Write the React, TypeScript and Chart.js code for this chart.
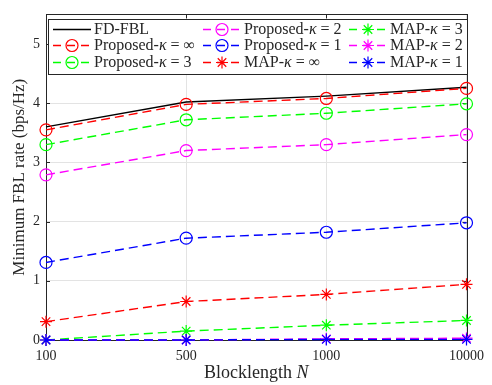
import React, { useEffect, useRef } from 'react';
import { Chart, registerables } from 'chart.js';

Chart.register(...registerables);

const categories = ['100', '500', '1000', '10000'];
const fdFbl = [3.6, 4.02, 4.12, 4.27];
const propInf = [3.55, 3.98, 4.08, 4.25];
const prop3 = [3.3, 3.72, 3.83, 3.99];
const prop2 = [2.79, 3.2, 3.3, 3.47];
const prop1 = [1.31, 1.72, 1.82, 1.98];
const mapInf = [0.31, 0.65, 0.77, 0.94];
const map3 = [0.0, 0.15, 0.25, 0.33];
const map2 = [0.0, 0.0, 0.02, 0.03];
const map1 = [0.0, 0.0, 0.01, 0.01];
const yTicks = [0, 1, 2, 3, 4, 5];
const xTitle = 'Blocklength ';
const xTitleVar = 'N';
const yTitle = 'Minimum FBL rate (bps/Hz)';

const FONT = "'Liberation Serif', 'DejaVu Serif', serif";
const TXT = '#262626';

type S = { label: string; data: number[]; color: string; marker: string; dash: boolean };
const series: S[] = [
  { label: 'FD-FBL', data: fdFbl, color: '#000000', marker: 'none', dash: false },
  { label: 'Proposed-κ = ∞', data: propInf, color: '#ff0000', marker: 'circle', dash: true },
  { label: 'Proposed-κ = 3', data: prop3, color: '#00ff00', marker: 'circle', dash: true },
  { label: 'Proposed-κ = 2', data: prop2, color: '#ff00ff', marker: 'circle', dash: true },
  { label: 'Proposed-κ = 1', data: prop1, color: '#0000ff', marker: 'circle', dash: true },
  { label: 'MAP-κ = ∞', data: mapInf, color: '#ff0000', marker: 'star', dash: true },
  { label: 'MAP-κ = 3', data: map3, color: '#00ff00', marker: 'star', dash: true },
  { label: 'MAP-κ = 2', data: map2, color: '#ff00ff', marker: 'star', dash: true },
  { label: 'MAP-κ = 1', data: map1, color: '#0000ff', marker: 'star', dash: true },
];

const DASH = [9, 5];
const LW = 1.4;
const RAD = 6;

function drawMarker(ctx: CanvasRenderingContext2D, kind: string, x: number, y: number, color: string) {
  if (kind === 'none') return;
  ctx.save();
  ctx.strokeStyle = color;
  ctx.lineWidth = 1.2;
  ctx.setLineDash([]);
  ctx.beginPath();
  if (kind === 'circle') {
    ctx.arc(x, y, RAD, 0, Math.PI * 2);
  } else {
    for (let i = 0; i < 4; i++) {
      const a = (i * Math.PI) / 4;
      ctx.moveTo(x - RAD * Math.cos(a), y - RAD * Math.sin(a));
      ctx.lineTo(x + RAD * Math.cos(a), y + RAD * Math.sin(a));
    }
  }
  ctx.stroke();
  ctx.restore();
}

const framePlugin = {
  id: 'frame',
  beforeDatasetsDraw(chart: any) {
    const { ctx, chartArea: a, scales } = chart;
    ctx.save();
    ctx.strokeStyle = '#262626';
    ctx.lineWidth = 1;
    ctx.strokeRect(Math.round(a.left) + 0.5, Math.round(a.top) + 0.5, Math.round(a.right - a.left), Math.round(a.bottom - a.top));
    ctx.beginPath();
    yTicks.forEach((v) => {
      const y = Math.round(scales.y.getPixelForValue(v)) + 0.5;
      ctx.moveTo(a.left, y); ctx.lineTo(a.left + 4, y);
      ctx.moveTo(a.right, y); ctx.lineTo(a.right - 4, y);
    });
    categories.forEach((_, i) => {
      const x = Math.round(scales.x.getPixelForValue(i)) + 0.5;
      ctx.moveTo(x, a.bottom); ctx.lineTo(x, a.bottom - 4);
      ctx.moveTo(x, a.top); ctx.lineTo(x, a.top + 4);
    });
    ctx.stroke();

    // axis titles
    ctx.fillStyle = TXT;
    ctx.textBaseline = 'middle';
    const cx = (a.left + a.right) / 2;
    ctx.font = `18px ${FONT}`;
    const w1 = ctx.measureText(xTitle).width;
    ctx.font = `italic 18px ${FONT}`;
    const w2 = ctx.measureText(xTitleVar).width;
    let sx = cx - (w1 + w2) / 2;
    ctx.textAlign = 'left';
    ctx.font = `18px ${FONT}`;
    ctx.fillText(xTitle, sx, 373);
    ctx.font = `italic 18px ${FONT}`;
    ctx.fillText(xTitleVar, sx + w1, 373);

    ctx.save();
    ctx.translate(20, (a.top + a.bottom) / 2);
    ctx.rotate(-Math.PI / 2);
    ctx.textAlign = 'center';
    ctx.font = `17px ${FONT}`;
    ctx.fillText(yTitle, 0, 0);
    ctx.restore();
    ctx.restore();
  },
  afterDatasetsDraw(chart: any) {
    const { ctx } = chart;
    const bx = 48, by = 19, bw = 419, bh = 55;
    ctx.save();
    ctx.fillStyle = '#ffffff';
    ctx.fillRect(bx, by, bw, bh);
    ctx.strokeStyle = '#262626';
    ctx.lineWidth = 1;
    ctx.setLineDash([]);
    ctx.strokeRect(bx + 0.5, by + 0.5, bw, bh);
    const colX = [53, 203, 349];
    const rowY = [29, 45, 62];
    series.forEach((s, k) => {
      const c = Math.floor(k / 3), r = k % 3;
      const x0 = colX[c], y = rowY[r] + 0.5;
      ctx.strokeStyle = s.color;
      ctx.lineWidth = LW;
      ctx.setLineDash(s.dash ? [8, 6] : []);
      ctx.beginPath();
      ctx.moveTo(x0, y); ctx.lineTo(x0 + 38, y);
      ctx.stroke();
      drawMarker(ctx, s.marker, x0 + 19, y, s.color);
      ctx.fillStyle = TXT;
      ctx.textBaseline = 'middle';
      ctx.textAlign = 'left';
      let tx = x0 + 41;
      const parts = s.label.split('κ');
      parts.forEach((p, i) => {
        ctx.font = `16px ${FONT}`;
        ctx.fillText(p, tx, y);
        tx += ctx.measureText(p).width;
        if (i < parts.length - 1) {
          ctx.font = `italic 16px ${FONT}`;
          ctx.fillText('κ', tx, y);
          tx += ctx.measureText('κ').width;
        }
      });
    });
    ctx.restore();
  },
};

export default function App() {
  const ref = useRef<HTMLCanvasElement>(null);
  useEffect(() => {
    if (!ref.current) return;
    const chart = new Chart(ref.current, {
      type: 'line',
      data: {
        labels: categories,
        datasets: series.map((s, i) => ({
          label: s.label,
          data: s.data,
          borderColor: s.color,
          backgroundColor: 'transparent',
          borderWidth: LW,
          borderDash: s.dash ? DASH : [],
          pointStyle: s.marker === 'none' ? false : s.marker === 'star' ? 'star' : 'circle',
          pointRadius: s.marker === 'none' ? 0 : RAD,
          pointBorderWidth: 1.2,
          pointBorderColor: s.color,
          pointBackgroundColor: 'transparent',
          tension: 0,
          clip: false as any,
          order: series.length - i,
        })),
      },
      options: {
        animation: false,
        responsive: false,
        maintainAspectRatio: false,
        layout: { padding: { top: 9, right: 24, left: 0, bottom: 0 } },
        plugins: { legend: { display: false }, tooltip: { enabled: false } },
        scales: {
          x: {
            type: 'category',
            offset: false,
            grid: { color: '#e3e3e3', drawTicks: false, lineWidth: 1 },
            border: { display: false },
            ticks: { color: TXT, font: { family: FONT, size: 14 }, padding: 8, maxRotation: 0 },
            afterFit(scale: any) { scale.height = 45; },
          },
          y: {
            min: 0,
            max: 5.5,
            grid: { color: '#e3e3e3', drawTicks: false, lineWidth: 1 },
            border: { display: false },
            afterBuildTicks(scale: any) { scale.ticks = yTicks.map((v) => ({ value: v })); },
            ticks: { color: TXT, font: { family: FONT, size: 14 }, padding: 6 },
            afterFit(scale: any) { scale.width = 46; },
          },
        },
      },
      plugins: [framePlugin],
    });
    return () => chart.destroy();
  }, []);
  return (
    <div style={{ position: 'fixed', left: 0, top: 0, width: 492, height: 385, background: '#fff' }}>
      <canvas ref={ref} width={492} height={385} style={{ width: 492, height: 385 }} />
    </div>
  );
}
